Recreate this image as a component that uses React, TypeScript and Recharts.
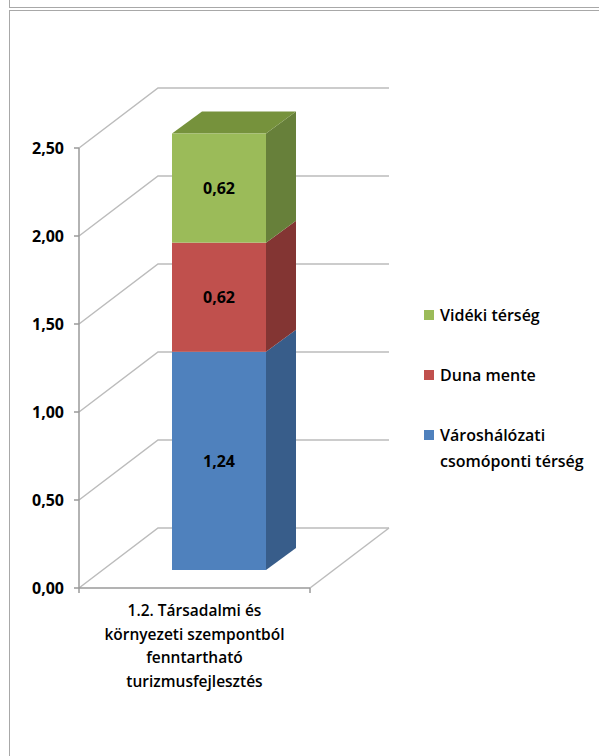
import React from 'react';
import {
    BarChart,
    Bar,
    XAxis,
    YAxis,
    CartesianGrid,
    Legend,
    LabelList
} from 'recharts';

// one category, three stacked series
const categories = ['1.2. Társadalmi  és környezeti szempontból fenntartható turizmusfejlesztés'];
const categoryLines = [['1.2. Társadalmi  és', 'környezeti szempontból', 'fenntartható', 'turizmusfejlesztés']];
const varosValues = [1.24];
const dunaValues = [0.62];
const videkiValues = [0.62];
const yTicks = [0, 0.5, 1, 1.5, 2, 2.5];

const seriesNames = ['Városhálózati csomóponti térség', 'Duna mente', 'Vidéki térség'];
const legendLines = [['Vidéki térség'], ['Duna mente'], ['Városhálózati', 'csomóponti térség']];

const data = categories.map((name, i) => ({
    name,
    lines: categoryLines[i],
    varos: varosValues[i],
    duna: dunaValues[i],
    videki: videkiValues[i]
}));

const FONT = '"Open Sans", "Noto Sans", sans-serif';
const GRID = '#bcbcbc';
const AXIS = '#9a9a9a';

// fake 3d depth
const WALL_DX = 79;
const WALL_DY = -60;
const BAR_DX = 24;
const BAR_DY = -18;
const SIDE_DX = 30;
const SIDE_DY = -22;

const colors = {
    varos: { front: '#4F81BD', side: '#385D8A', top: '#41699A' },
    duna: { front: '#C0504D', side: '#833533', top: '#9C3E3B' },
    videki: { front: '#9BBB59', side: '#67803A', top: '#76923C' }
};

const fmt = (v: number) => v.toFixed(2).replace('.', ',');

const makeShape = (c: { front: string; side: string; top: string }, withTop: boolean) => (props: any) => {
    const { x, y, width, height } = props;
    if (!height) return <g />;
    const fx = x + BAR_DX;
    const fy = y + BAR_DY;
    const r = fx + width;
    return (
        <g>
            <polygon
                points={`${r},${fy} ${r + SIDE_DX},${fy + SIDE_DY} ${r + SIDE_DX},${fy + height + SIDE_DY} ${r},${fy + height}`}
                fill={c.side}
            />
            {withTop && (
                <polygon
                    points={`${fx},${fy} ${r},${fy} ${r + SIDE_DX},${fy + SIDE_DY} ${fx + SIDE_DX},${fy + SIDE_DY}`}
                    fill={c.top}
                />
            )}
            <rect x={fx} y={fy} width={width} height={height} fill={c.front} />
        </g>
    );
};

const renderValue = (props: any) => {
    const { x, y, width, height, value } = props;
    return (
        <text
            x={x + width / 2 + BAR_DX}
            y={y + height / 2 + BAR_DY}
            textAnchor="middle"
            dominantBaseline="central"
            fontFamily={FONT}
            fontWeight={700}
            fontSize={16}
            fill="#000"
        >
            {fmt(value)}
        </text>
    );
};

const renderGridLine = (p: any) => {
    const { x1, y1, x2 } = p;
    const by = y1 + WALL_DY;
    const isFloor = Math.abs(y1 - (p.y + p.height)) < 0.5;
    return (
        <g key={`gl-${y1}`}>
            <polyline
                points={`${x1},${y1} ${x1 + WALL_DX},${by} ${x2 + WALL_DX},${by}`}
                fill="none"
                stroke={GRID}
                strokeWidth={1.5}
            />
            {isFloor && (
                <g>
                    <line x1={x2} y1={y1} x2={x2 + WALL_DX} y2={by} stroke={GRID} strokeWidth={1.5} />
                    <line x1={x1} y1={y1} x2={x1} y2={y1 + 5} stroke={AXIS} strokeWidth={1.5} />
                    <line x1={x2} y1={y1} x2={x2} y2={y1 + 5} stroke={AXIS} strokeWidth={1.5} />
                </g>
            )}
        </g>
    );
};

const CategoryTick = (props: any) => {
    const { x, y, index } = props;
    const lines = data[index]?.lines ?? [];
    return (
        <text x={x} y={y} textAnchor="middle" fontFamily={FONT} fontWeight={600} fontSize={15.5} fill="#000">
            {lines.map((l: string, i: number) => (
                <tspan key={i} x={x} dy={i === 0 ? 20 : 23.5}>
                    {l}
                </tspan>
            ))}
        </text>
    );
};

const legendColors = [colors.videki.front, colors.duna.front, colors.varos.front];

const renderLegend = () => (
    <div style={{ fontFamily: FONT, fontWeight: 600, fontSize: 16, color: '#000' }}>
        {legendLines.map((lines, i) => (
            <div key={i} style={{ display: 'flex', alignItems: 'flex-start', marginBottom: i < 2 ? 34 : 0 }}>
                <span
                    style={{
                        display: 'inline-block',
                        width: 10,
                        height: 10,
                        background: legendColors[i],
                        marginTop: 8,
                        marginRight: 6
                    }}
                />
                <div style={{ lineHeight: '26px' }}>
                    {lines.map((l) => (
                        <div key={l}>{l}</div>
                    ))}
                </div>
            </div>
        ))}
    </div>
);

export default function App() {
    return (
        <div
            style={{
                position: 'absolute',
                left: 0,
                top: 0,
                width: 599,
                height: 756,
                overflow: 'hidden',
                background: '#fff'
            }}
        >
            <div style={{ position: 'absolute', left: 9, top: -10, width: 700, height: 16, border: '1.5px solid #a8a8a8' }} />
            <div style={{ position: 'absolute', left: 9, top: 10, width: 700, height: 800, border: '1.5px solid #a8a8a8' }} />
            <BarChart
                width={599}
                height={756}
                data={data}
                margin={{ top: 148, right: 289, bottom: 68, left: 19 }}
                style={{ position: 'absolute', left: 0, top: 0 }}
            >
                <CartesianGrid vertical={false} horizontal={renderGridLine} />
                <XAxis
                    dataKey="name"
                    height={100}
                    tickLine={false}
                    axisLine={{ stroke: AXIS, strokeWidth: 1.5 }}
                    tick={<CategoryTick />}
                    interval={0}
                />
                <YAxis
                    width={60}
                    domain={[0, 2.5]}
                    ticks={yTicks}
                    tickFormatter={fmt}
                    tickSize={5}
                    tickMargin={10}
                    axisLine={{ stroke: AXIS, strokeWidth: 1.5 }}
                    tickLine={{ stroke: AXIS, strokeWidth: 1.5 }}
                    tick={{ fill: '#000', fontSize: 16, fontWeight: 700, fontFamily: FONT }}
                />
                <Legend
                    layout="vertical"
                    align="center"
                    verticalAlign="middle"
                    content={renderLegend}
                    wrapperStyle={{ left: 424, top: 302, width: 175 }}
                />
                <Bar dataKey="varos" name={seriesNames[0]} stackId="a" barSize={94} shape={makeShape(colors.varos, false)} isAnimationActive={false}>
                    <LabelList dataKey="varos" content={renderValue} />
                </Bar>
                <Bar dataKey="duna" name={seriesNames[1]} stackId="a" barSize={94} shape={makeShape(colors.duna, false)} isAnimationActive={false}>
                    <LabelList dataKey="duna" content={renderValue} />
                </Bar>
                <Bar dataKey="videki" name={seriesNames[2]} stackId="a" barSize={94} shape={makeShape(colors.videki, true)} isAnimationActive={false}>
                    <LabelList dataKey="videki" content={renderValue} />
                </Bar>
            </BarChart>
        </div>
    );
}
